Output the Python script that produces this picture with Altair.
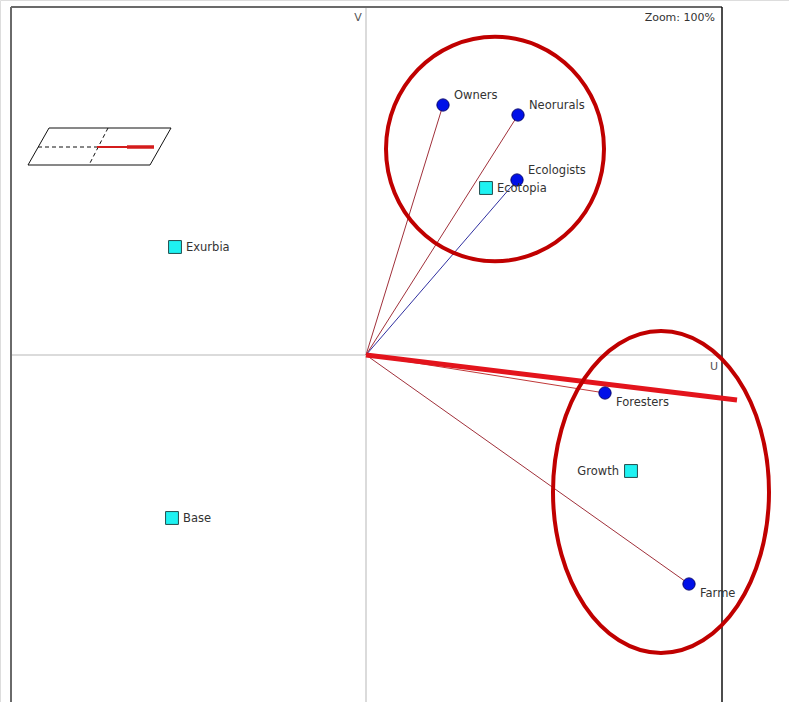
import altair as alt
import pandas as pd

# Biplot coordinates (U = horizontal axis, V = vertical axis)
variables = ["Owners", "Neorurals", "Ecologists", "Foresters", "Farme"]
var_u = [0.77, 1.52, 1.51, 2.39, 3.23]
var_v = [2.50, 2.40, 1.75, -0.38, -2.29]
var_ray_color = ["#a0303a", "#a0303a", "#3030a0", "#c03838", "#a0303a"]
var_label_pos = ["above", "above", "above", "below", "below"]

scenarios = ["Ecotopia", "Exurbia", "Base", "Growth"]
sc_u = [1.20, -1.91, -1.94, 2.65]
sc_v = [1.67, 1.08, -1.63, -1.16]
sc_label_pos = ["right", "right", "right", "left"]

# Highlighted direction (thick red vector)
main_u = [0.0, 3.71]
main_v = [0.0, -0.45]

# Group highlights: centre, half-width, height/width ratio
ell_u = [1.29, 2.95]
ell_v = [2.06, -1.37]
ell_halfwidth_px = [109, 108]
ell_ratio = [1.03, 1.49]

# Frame and plane extents
frame_left, frame_right, frame_top, frame_bottom = -3.55, 3.56, 3.48, -3.47
x_domain = [-3.66, 4.23]
y_domain = [-3.47, 3.55]

# Orientation inset (parallelogram with projected axis)
inset_u = [-3.17, -1.95, -2.16, -3.38, -3.17]
inset_v = [2.27, 2.27, 1.90, 1.90, 2.27]

W, H = 789, 702
xs = alt.Scale(domain=x_domain, nice=False, zero=False)
ys = alt.Scale(domain=y_domain, nice=False, zero=False)

def X(field="u", **kw):
    return alt.X(field, type="quantitative", scale=xs, axis=None, **kw)

def Y(field="v", **kw):
    return alt.Y(field, type="quantitative", scale=ys, axis=None, **kw)

var_df = pd.DataFrame({"name": variables, "u": var_u, "v": var_v,
                       "col": var_ray_color, "pos": var_label_pos,
                       "u0": 0.0, "v0": 0.0})
sc_df = pd.DataFrame({"name": scenarios, "u": sc_u, "v": sc_v, "pos": sc_label_pos})

frame_df = pd.DataFrame({
    "u": [frame_left, frame_left, frame_right],
    "v": [frame_top, frame_top, frame_top],
    "u2": [frame_right, frame_left, frame_right],
    "v2": [frame_top, frame_bottom, frame_bottom],
    "col": ["#6a6a6a", "#6a6a6a", "#111111"],
    "w": [2.0, 2.0, 1.5],
})
cross_df = pd.DataFrame({
    "u": [0.0, frame_left], "v": [frame_top, 0.0],
    "u2": [0.0, frame_right], "v2": [frame_bottom, 0.0],
})

cross = alt.Chart(cross_df).mark_rule(color="#cfcfcf", strokeWidth=1.5).encode(
    x=X("u"), y=Y("v"), x2="u2", y2="v2")

frame = alt.Chart(frame_df).mark_rule().encode(
    x=X("u"), y=Y("v"), x2="u2", y2="v2",
    color=alt.Color("col:N", scale=None),
    strokeWidth=alt.StrokeWidth("w:Q", scale=None))

rays = alt.Chart(var_df).mark_rule(strokeWidth=1).encode(
    x=X("u0"), y=Y("v0"), x2="u", y2="v",
    color=alt.Color("col:N", scale=None))

main_df = pd.DataFrame({"u": [main_u[0]], "v": [main_v[0]], "u2": [main_u[1]], "v2": [main_v[1]]})
main_ray = alt.Chart(main_df).mark_rule(color="#e3141c", strokeWidth=5).encode(
    x=X("u"), y=Y("v"), x2="u2", y2="v2")

squares = alt.Chart(sc_df).mark_point(
    shape="square", filled=True, fill="#1ef2f2", stroke="#224c4c",
    strokeWidth=1, size=165, opacity=1).encode(x=X(), y=Y())

dots = alt.Chart(var_df).mark_point(
    shape="circle", filled=True, fill="#0010e8", stroke="#000070",
    strokeWidth=1, size=150, opacity=1).encode(x=X(), y=Y())

label_style = dict(font="DejaVu Sans", fontSize=11.5, color="#333333")

def labels(df, pos, **kw):
    return alt.Chart(df).transform_filter(alt.datum.pos == pos).mark_text(
        **label_style, **kw).encode(x=X(), y=Y(), text="name:N")

var_above = labels(var_df, "above", align="left", dx=11, dy=-9)
var_below = labels(var_df, "below", align="left", dx=11, dy=10)
sc_right = labels(sc_df, "right", align="left", dx=11, dy=1)
sc_left = labels(sc_df, "left", align="right", dx=-12, dy=1)

def ellipse_path(r):
    k = 0.5523
    return (f"M0,{-r} C{k},{-r} 1,{-k*r} 1,0 C1,{k*r} {k},{r} 0,{r} "
            f"C{-k},{r} -1,{k*r} -1,0 C-1,{-k*r} {-k},{-r} 0,{-r} Z")

ellipses = []
for cu, cv, hw, r in zip(ell_u, ell_v, ell_halfwidth_px, ell_ratio):
    edf = pd.DataFrame({"u": [cu], "v": [cv]})
    ellipses.append(alt.Chart(edf).mark_point(
        shape=ellipse_path(r), filled=False, stroke="#c00000",
        strokeWidth=4, size=(2 * hw) ** 2, opacity=1).encode(x=X(), y=Y()))

# Orientation inset
inset_df = pd.DataFrame({"u": inset_u, "v": inset_v, "i": list(range(len(inset_u)))})
inset_box = alt.Chart(inset_df).mark_line(color="#111111", strokeWidth=1).encode(
    x=X(), y=Y(), order="i:O")
inset_seg_df = pd.DataFrame({
    "u": [-3.28, -2.58], "v": [2.08, 2.27],
    "u2": [-2.69, -2.77], "v2": [2.08, 1.90],
})
inset_dash = alt.Chart(inset_seg_df).mark_rule(
    color="#111111", strokeWidth=1, strokeDash=[4, 3]).encode(
    x=X("u"), y=Y("v"), x2="u2", y2="v2")
inset_red_df = pd.DataFrame({
    "u": [-2.69, -2.39], "v": [2.08, 2.08], "u2": [-2.12, -2.12], "v2": [2.08, 2.08],
    "w": [2.0, 3.5],
})
inset_red = alt.Chart(inset_red_df).mark_rule(color="#d41c1c").encode(
    x=X("u"), y=Y("v"), x2="u2", y2="v2",
    strokeWidth=alt.StrokeWidth("w:Q", scale=None))

# Axis names and zoom indicator
axis_txt_df = pd.DataFrame({"u": [-0.08, 3.48], "v": [3.37, -0.12], "t": ["V", "U"]})
axis_txt = alt.Chart(axis_txt_df).mark_text(
    font="DejaVu Sans", fontSize=11, color="#555555").encode(x=X(), y=Y(), text="t:N")
zoom_df = pd.DataFrame({"u": [3.49], "v": [3.37], "t": ["Zoom: 100%"]})
zoom_txt = alt.Chart(zoom_df).mark_text(
    font="DejaVu Sans", fontSize=11, color="#333333", align="right").encode(
    x=X(), y=Y(), text="t:N")

chart = alt.layer(
    cross, frame, rays, main_ray, inset_box, inset_dash, inset_red,
    squares, dots, var_above, var_below, sc_right, sc_left,
    axis_txt, zoom_txt, *ellipses,
).properties(
    width=W, height=H, padding=0, autosize=alt.AutoSizeParams(type="none"),
).configure_view(stroke=None).configure(background="white")

chart.save("out.html", embed_options={"renderer": "svg", "actions": False})
